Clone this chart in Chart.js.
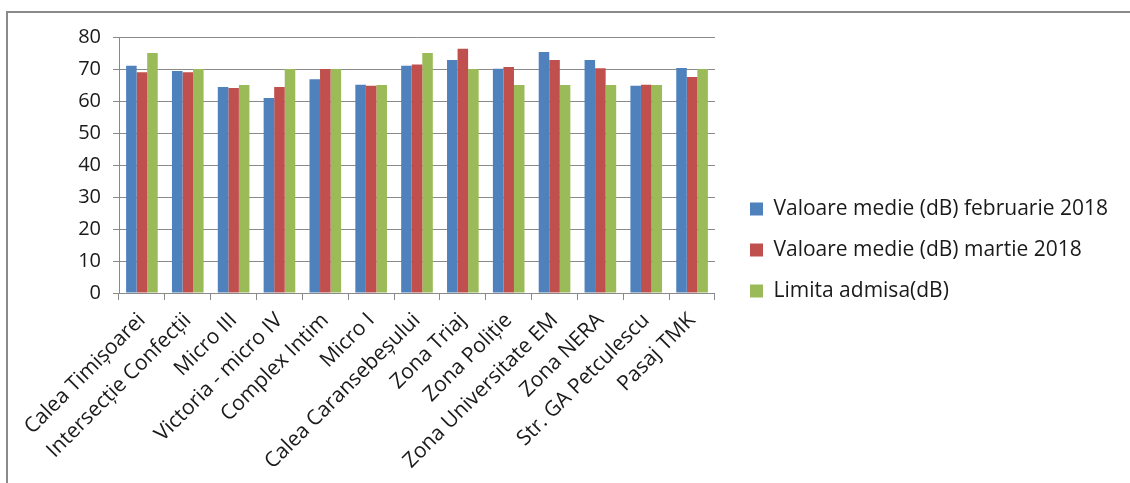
<!DOCTYPE html>
<html>
<head>
<meta charset="utf-8">
<script src="https://cdn.jsdelivr.net/npm/chart.js@4.4.1/dist/chart.umd.min.js"></script>
<style>
  html, body { margin: 0; padding: 0; background: #fff; }
  #wrap { position: absolute; left: 0; top: 0; width: 1130px; height: 483px; }
  #frame { position: absolute; left: 6px; top: 11px; width: 1130px; height: 480px;
           border-left: 2px solid #8a8a8a; border-top: 2px solid #8a8a8a; pointer-events: none; }
  canvas { position: absolute; left: 0; top: 0; }
</style>
</head>
<body>
<div id="wrap">
  <canvas id="c" width="1130" height="483"></canvas>
  <div id="frame"></div>
</div>
<script>
const categories = [
  "Calea Timișoarei", "Intersecție Confecții", "Micro III", "Victoria - micro IV",
  "Complex Intim", "Micro I", "Calea Caransebeșului", "Zona Triaj", "Zona Poliție",
  "Zona Universitate EM", "Zona NERA", "Str. GA Petculescu", "Pasaj TMK"
];
const seriesNames = [
  "Valoare medie (dB) februarie 2018",
  "Valoare medie (dB) martie 2018",
  "Limita admisa(dB)"
];
const februarie = [71.0, 69.4, 64.4, 60.9, 66.8, 65.1, 71.0, 72.8, 70.1, 75.3, 72.8, 64.8, 70.3];
const martie    = [69.0, 69.0, 64.1, 64.4, 70.0, 64.8, 71.4, 76.3, 70.6, 72.8, 70.2, 65.1, 67.5];
const limita    = [75, 70, 65, 70, 70, 65, 75, 70, 65, 65, 65, 65, 70];
const yTicks = [0, 10, 20, 30, 40, 50, 60, 70, 80];

const colors = ["#4F81BD", "#C0504D", "#9BBB59"];
const FONT = "'Open Sans', 'DejaVu Sans', sans-serif";
const TXT = '#1a1a1a';
const GRID = '#8a8a8a';

const blankAxis = (pos, size) => ({
  type: 'linear',
  position: pos,
  min: 0, max: 1,
  grid: { display: false, drawTicks: false },
  border: { display: false },
  ticks: { display: false },
  afterFit: s => { if (pos === 'top') s.height = size; else s.width = size; }
});

new Chart(document.getElementById('c'), {
  type: 'bar',
  data: {
    labels: categories,
    datasets: [februarie, martie, limita].map((d, i) => ({
      label: seriesNames[i],
      data: d,
      backgroundColor: colors[i],
      borderWidth: 0,
      categoryPercentage: 0.69,
      barPercentage: 1.0
    }))
  },
  options: {
    responsive: false,
    animation: false,
    devicePixelRatio: 1,
    layout: { padding: { left: 10, right: 12, top: 17, bottom: 0 } },
    plugins: {
      tooltip: { enabled: false },
      legend: {
        position: 'right',
        align: 'center',
        maxWidth: 480,
        labels: {
          font: { family: FONT, size: 21 },
          color: TXT,
          boxWidth: 13,
          boxHeight: 13,
          padding: 20
        }
      }
    },
    scales: {
      x: {
        offset: true,
        grid: { display: true, drawOnChartArea: false, offset: true, tickLength: 7, color: GRID },
        border: { color: GRID, width: 1 },
        ticks: {
          font: { family: FONT, size: 21 },
          color: TXT,
          minRotation: 45,
          maxRotation: 45,
          autoSkip: false,
          padding: 8
        },
        afterFit: s => { s.height = 190; }
      },
      y: {
        min: 0, max: 80,
        afterBuildTicks: s => { s.ticks = yTicks.map(v => ({ value: v })); },
        grid: { color: GRID, tickLength: 6 },
        border: { color: GRID, width: 1 },
        ticks: {
          font: { family: FONT, size: 20 },
          color: TXT,
          padding: 12
        },
        afterFit: s => { s.width = 109; }
      },
      spacerRight: blankAxis('right', 15),
      spacerTop: blankAxis('top', 20)
    }
  }
});
</script>
</body>
</html>
